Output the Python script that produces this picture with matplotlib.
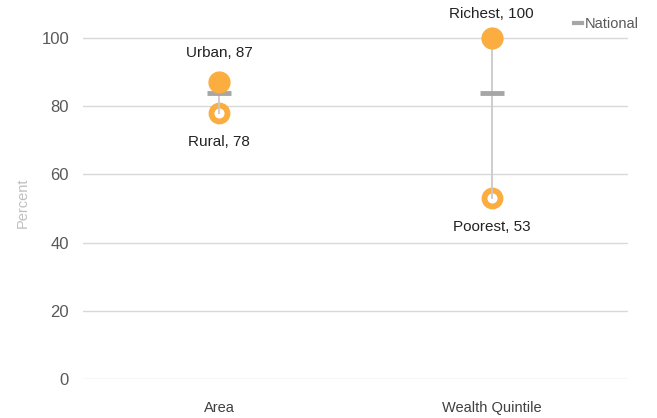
import matplotlib
matplotlib.use("Agg")
import matplotlib.pyplot as plt
from matplotlib.lines import Line2D

categories = ["Area", "Wealth Quintile"]
high_labels = ["Urban", "Richest"]
high_values = [87, 100]
low_labels = ["Rural", "Poorest"]
low_values = [78, 53]
national = [84, 84]

high_offsets = [21, 17]

orange = "#FBAD3F"
plt.rcParams['font.family'] = ['Liberation Sans', 'DejaVu Sans']

fig = plt.figure(figsize=(6.57, 4.18), dpi=100)
ax = fig.add_axes([83/657, 1-379/418, 545/657, 375/418])
ax.set_xlim(-0.5, 1.5)
ax.set_ylim(0, 110)

xs = list(range(len(categories)))
for i in xs:
    ax.plot(i, low_values[i], marker="o", ms=11.5, mfc="white", mec=orange, mew=4.2, zorder=1, linestyle="none")
    ax.plot([i, i], [low_values[i], high_values[i]], color="#C9C9C9", lw=1.3, zorder=2)
    ax.plot(i, national[i], marker="_", ms=17, mew=3.5, color="#A6A6A6", zorder=3, linestyle="none")
    ax.plot(i, high_values[i], marker="o", ms=15, color=orange, mec=orange, zorder=4, linestyle="none")
    ax.annotate(f"{high_labels[i]}, {high_values[i]}", (i, high_values[i]), xytext=(0, high_offsets[i]),
                textcoords="offset points", ha="center", va="center", fontsize=11, color="#222222")
    ax.annotate(f"{low_labels[i]}, {low_values[i]}", (i, low_values[i]), xytext=(0, -21),
                textcoords="offset points", ha="center", va="center", fontsize=11, color="#222222")

ax.set_yticks([0, 20, 40, 60, 80, 100])
ax.set_xticks(xs)
ax.set_xticklabels(categories)
ax.grid(axis="y", color="#D9D9D9", lw=1)
ax.set_axisbelow(True)
for s in ax.spines.values():
    s.set_visible(False)
ax.tick_params(axis="y", length=0, pad=10, labelsize=12, labelcolor="#595959")
ax.tick_params(axis="x", length=0, pad=16, labelsize=10.5, labelcolor="#404040")
ax.set_ylabel("Percent", color="#BFBFBF", fontsize=10.5)
ax.yaxis.set_label_coords(-0.097, 0.47)

handle = Line2D([], [], color="#A6A6A6", lw=3)
leg = ax.legend([handle], ["National"], loc="upper right", bbox_to_anchor=(1.03, 0.98),
                frameon=False, fontsize=10.5, handlelength=0.5, handletextpad=0.2,
                labelcolor="#595959", borderaxespad=0)

fig.savefig("out.png", dpi=100)
